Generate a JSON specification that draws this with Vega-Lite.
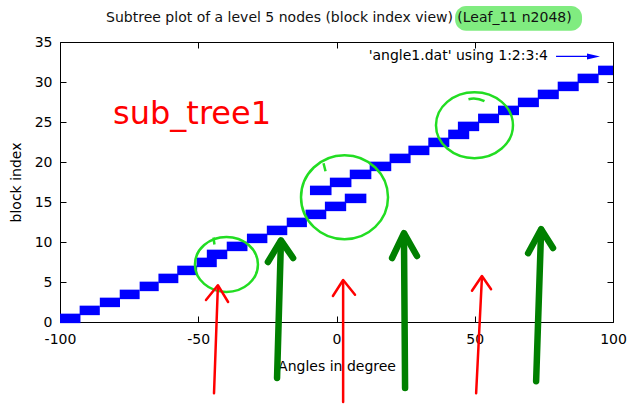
{
  "$schema": "https://vega.github.io/schema/vega-lite/v6.json",
  "width": 553,
  "height": 280,
  "autosize": "none",
  "padding": {"left": 60, "top": 42, "right": 19, "bottom": 84},
  "background": "white",
  "config": {
    "font": "DejaVu Sans",
    "view": {"stroke": "#000", "strokeWidth": 1},
    "axis": {
      "grid": false,
      "domain": false,
      "labelFont": "DejaVu Sans",
      "labelFontSize": 14,
      "labelColor": "#000",
      "labelFlush": false,
      "labelOverlap": false,
      "labelExpr": "'' + datum.value",
      "titleFont": "DejaVu Sans",
      "titleFontSize": 14,
      "titleFontWeight": "normal",
      "titleColor": "#000",
      "tickColor": "#000",
      "tickWidth": 1,
      "tickSize": -6
    }
  },
  "datasets": {
    "blocks": [
      {"a0": -100.0, "a1": -92.6, "block": 0},
      {"a0": -92.9, "a1": -85.6, "block": 1},
      {"a0": -85.6, "a1": -78.3, "block": 2},
      {"a0": -78.4, "a1": -71.2, "block": 3},
      {"a0": -71.2, "a1": -64.3, "block": 4},
      {"a0": -64.4, "a1": -57.2, "block": 5},
      {"a0": -57.6, "a1": -50.4, "block": 6},
      {"a0": -50.6, "a1": -43.3, "block": 7},
      {"a0": -46.9, "a1": -39.5, "block": 8},
      {"a0": -39.7, "a1": -32.2, "block": 9},
      {"a0": -32.4, "a1": -25.0, "block": 10},
      {"a0": -25.2, "a1": -17.8, "block": 11},
      {"a0": -18.0, "a1": -10.7, "block": 12},
      {"a0": -11.2, "a1": -3.7, "block": 13},
      {"a0": -4.2, "a1": 3.5, "block": 14},
      {"a0": 3.0, "a1": 10.8, "block": 15},
      {"a0": -9.6, "a1": -1.8, "block": 16},
      {"a0": -2.4, "a1": 5.4, "block": 17},
      {"a0": 4.8, "a1": 12.6, "block": 18},
      {"a0": 12.0, "a1": 19.8, "block": 19},
      {"a0": 19.2, "a1": 26.8, "block": 20},
      {"a0": 26.0, "a1": 33.6, "block": 21},
      {"a0": 33.2, "a1": 40.8, "block": 22},
      {"a0": 40.4, "a1": 48.0, "block": 23},
      {"a0": 43.9, "a1": 51.6, "block": 24},
      {"a0": 51.2, "a1": 58.8, "block": 25},
      {"a0": 58.4, "a1": 66.0, "block": 26},
      {"a0": 65.6, "a1": 73.2, "block": 27},
      {"a0": 72.8, "a1": 80.4, "block": 28},
      {"a0": 80.0, "a1": 87.6, "block": 29},
      {"a0": 87.2, "a1": 94.8, "block": 30},
      {"a0": 94.6, "a1": 100.0, "block": 31}
    ],
    "redPen": [
      {"stroke": "r1", "ord": 0, "a": -44.3, "b": -8.9},
      {"stroke": "r1", "ord": 1, "a": -42.9, "b": 4.5},
      {"stroke": "r1h", "ord": 0, "a": -47.2, "b": 2.75},
      {"stroke": "r1h", "ord": 1, "a": -42.9, "b": 4.6},
      {"stroke": "r1h", "ord": 2, "a": -39.2, "b": 2.5},
      {"stroke": "r2", "ord": 0, "a": 2.4, "b": -10.0},
      {"stroke": "r2", "ord": 1, "a": 2.4, "b": 5.1},
      {"stroke": "r2h", "ord": 0, "a": -1.3, "b": 3.25},
      {"stroke": "r2h", "ord": 1, "a": 2.4, "b": 5.25},
      {"stroke": "r2h", "ord": 2, "a": 6.7, "b": 3.4},
      {"stroke": "r3", "ord": 0, "a": 50.5, "b": -8.9},
      {"stroke": "r3", "ord": 1, "a": 52.6, "b": 5.6},
      {"stroke": "r3h", "ord": 0, "a": 49.0, "b": 3.9},
      {"stroke": "r3h", "ord": 1, "a": 52.6, "b": 5.75},
      {"stroke": "r3h", "ord": 2, "a": 55.9, "b": 4.1}
    ],
    "greenPen": [
      {"stroke": "g1", "ord": 0, "a": -21.5, "b": -7.0},
      {"stroke": "g1", "ord": 1, "a": -20.1, "b": 10.1},
      {"stroke": "g1h", "ord": 0, "a": -24.8, "b": 7.5},
      {"stroke": "g1h", "ord": 1, "a": -20.1, "b": 10.2},
      {"stroke": "g1h", "ord": 2, "a": -15.7, "b": 8.0},
      {"stroke": "g2", "ord": 0, "a": 24.8, "b": -8.25},
      {"stroke": "g2", "ord": 1, "a": 24.4, "b": 10.9},
      {"stroke": "g2h", "ord": 0, "a": 20.1, "b": 8.0},
      {"stroke": "g2h", "ord": 1, "a": 24.4, "b": 11.1},
      {"stroke": "g2h", "ord": 2, "a": 29.1, "b": 8.25},
      {"stroke": "g3", "ord": 0, "a": 72.2, "b": -7.4},
      {"stroke": "g3", "ord": 1, "a": 74.0, "b": 11.5},
      {"stroke": "g3h", "ord": 0, "a": 69.3, "b": 8.6},
      {"stroke": "g3h", "ord": 1, "a": 74.0, "b": 11.6},
      {"stroke": "g3h", "ord": 2, "a": 78.3, "b": 9.25}
    ]
  },
  "resolve": {"axis": {"x": "independent", "y": "independent"}},
  "layer": [
    {
      "data": {"name": "blocks"},
      "mark": {"type": "rule", "color": "#0000ff", "strokeWidth": 9.5, "strokeCap": "butt", "yOffset": -3.6},
      "encoding": {
        "x": {
          "field": "a0", "type": "quantitative",
          "scale": {"domain": [-100, 100], "nice": false, "zero": false},
          "axis": {"orient": "bottom", "values": [-100, -50, 0, 50, 100], "title": "Angles in degree", "labelPadding": 16, "titlePadding": 13}
        },
        "x2": {"field": "a1"},
        "y": {
          "field": "block", "type": "quantitative",
          "scale": {"domain": [0, 35], "nice": false, "zero": false},
          "axis": {"orient": "left", "values": [0, 5, 10, 15, 20, 25, 30, 35], "title": "block index", "labelPadding": 14, "titlePadding": 11}
        }
      }
    },
    {
      "data": {"name": "blocks"},
      "mark": {"type": "rule", "opacity": 0},
      "encoding": {
        "x": {"field": "a0", "type": "quantitative", "axis": {"orient": "top", "values": [-100, -50, 0, 50, 100], "labels": false, "title": null}},
        "y": {"field": "block", "type": "quantitative", "axis": {"orient": "right", "values": [0, 5, 10, 15, 20, 25, 30, 35], "labels": false, "title": null}}
      }
    },
    {
      "data": {"values": [{"a0": 42.9, "a1": 88.8, "b0": 36.4, "b1": 39.5}]},
      "mark": {"type": "rect", "color": "#80ec80", "cornerRadius": 11},
      "encoding": {
        "x": {"field": "a0", "type": "quantitative", "axis": null},
        "x2": {"field": "a1"},
        "y": {"field": "b0", "type": "quantitative", "axis": null},
        "y2": {"field": "b1"}
      }
    },
    {
      "data": {"values": [{"a": 42.1, "b": 38.0, "txt": "Subtree plot of a level 5 nodes (block index view)"}]},
      "mark": {"type": "text", "font": "DejaVu Sans", "fontSize": 14, "color": "#111", "align": "right", "baseline": "middle"},
      "encoding": {
        "x": {"field": "a", "type": "quantitative", "axis": null},
        "y": {"field": "b", "type": "quantitative", "axis": null},
        "text": {"field": "txt"}
      }
    },
    {
      "data": {"values": [{"a": 43.7, "b": 38.0, "txt": "(Leaf_11 n2048)"}]},
      "mark": {"type": "text", "font": "DejaVu Sans", "fontSize": 14, "color": "#111", "align": "left", "baseline": "middle"},
      "encoding": {
        "x": {"field": "a", "type": "quantitative", "axis": null},
        "y": {"field": "b", "type": "quantitative", "axis": null},
        "text": {"field": "txt"}
      }
    },
    {
      "data": {"values": [{"a": 76.5, "b": 33.2, "txt": "'angle1.dat' using 1:2:3:4"}]},
      "mark": {"type": "text", "font": "DejaVu Sans", "fontSize": 14, "color": "#000", "align": "right", "baseline": "middle"},
      "encoding": {
        "x": {"field": "a", "type": "quantitative", "axis": null},
        "y": {"field": "b", "type": "quantitative", "axis": null},
        "text": {"field": "txt"}
      }
    },
    {
      "data": {"values": [{"a0": 79.4, "a1": 93.0, "b": 33.2}]},
      "mark": {"type": "rule", "color": "#0000ff", "strokeWidth": 1.3},
      "encoding": {
        "x": {"field": "a0", "type": "quantitative", "axis": null},
        "x2": {"field": "a1"},
        "y": {"field": "b", "type": "quantitative", "axis": null}
      }
    },
    {
      "data": {"values": [{"a": 92.95, "b": 33.2}]},
      "mark": {"type": "point", "shape": "M-6.5,-3L6.5,0L-6.5,3Z", "size": 4, "filled": true, "color": "#0000ff", "opacity": 1},
      "encoding": {
        "x": {"field": "a", "type": "quantitative", "axis": null},
        "y": {"field": "b", "type": "quantitative", "axis": null}
      }
    },
    {
      "data": {"values": [{"a": -80.8, "b": 24.8, "txt": "sub_tree1"}]},
      "mark": {"type": "text", "font": "DejaVu Sans", "fontSize": 32, "color": "#ff0000", "align": "left", "baseline": "alphabetic"},
      "encoding": {
        "x": {"field": "a", "type": "quantitative", "axis": null},
        "y": {"field": "b", "type": "quantitative", "axis": null},
        "text": {"field": "txt"}
      }
    },
    {
      "data": {"values": [{"a": -39.8, "b": 7.19}]},
      "mark": {"type": "point", "shape": "M31.5,0A31.5,27.5 0 1 1 -31.5,0A31.5,27.5 0 1 1 31.5,0M-13,-27L-12,-20", "size": 4, "filled": false, "color": "#22dd22", "strokeWidth": 2.5, "opacity": 1},
      "encoding": {
        "x": {"field": "a", "type": "quantitative", "axis": null},
        "y": {"field": "b", "type": "quantitative", "axis": null}
      }
    },
    {
      "data": {"values": [{"a": 2.9, "b": 15.6}]},
      "mark": {"type": "point", "shape": "M43.5,0A43.5,42 0 1 1 -43.5,0A43.5,42 0 1 1 43.5,0M-21,-34L-19,-26", "size": 4, "filled": false, "color": "#22dd22", "strokeWidth": 2.5, "opacity": 1},
      "encoding": {
        "x": {"field": "a", "type": "quantitative", "axis": null},
        "y": {"field": "b", "type": "quantitative", "axis": null}
      }
    },
    {
      "data": {"values": [{"a": 49.9, "b": 24.6}]},
      "mark": {"type": "point", "shape": "M38.5,0A38.5,33 0 1 1 -38.5,0A38.5,33 0 1 1 38.5,0M10,-24Q2,-28 -6,-26", "size": 4, "filled": false, "color": "#22dd22", "strokeWidth": 2.5, "opacity": 1},
      "encoding": {
        "x": {"field": "a", "type": "quantitative", "axis": null},
        "y": {"field": "b", "type": "quantitative", "axis": null}
      }
    },
    {
      "data": {"name": "redPen"},
      "mark": {"type": "line", "color": "#ff0000", "strokeWidth": 2.5, "strokeCap": "round", "strokeJoin": "round"},
      "encoding": {
        "x": {"field": "a", "type": "quantitative", "axis": null},
        "y": {"field": "b", "type": "quantitative", "axis": null},
        "detail": {"field": "stroke"},
        "order": {"field": "ord"}
      }
    },
    {
      "data": {"name": "greenPen"},
      "mark": {"type": "line", "color": "#008000", "strokeWidth": 6.5, "strokeCap": "round", "strokeJoin": "round"},
      "encoding": {
        "x": {"field": "a", "type": "quantitative", "axis": null},
        "y": {"field": "b", "type": "quantitative", "axis": null},
        "detail": {"field": "stroke"},
        "order": {"field": "ord"}
      }
    }
  ]
}
